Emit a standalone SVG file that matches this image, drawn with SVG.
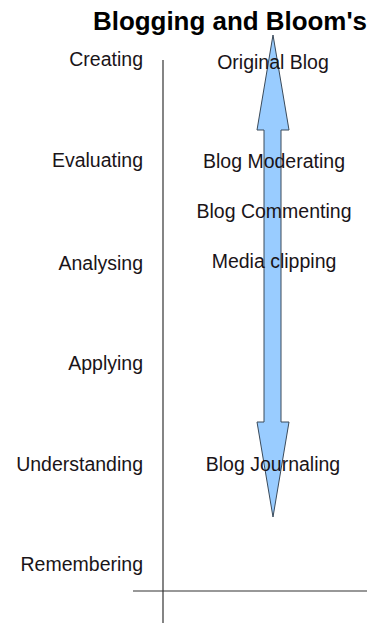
<svg xmlns="http://www.w3.org/2000/svg" width="380" height="623" viewBox="0 0 380 623">
<style>
.t{font-family:"Liberation Sans",Arial,sans-serif;font-size:19.5px;fill:#1a1418}
.l{text-anchor:end}
.c{text-anchor:middle}
.ax{stroke:#333;stroke-width:1.2;fill:none}
</style>
<rect width="380" height="623" fill="#fff"/>
<g id="title"><text x="93" y="30" font-family="Liberation Sans,Arial,sans-serif" font-weight="bold" font-size="25" fill="#000" textLength="274" lengthAdjust="spacingAndGlyphs">Blogging and Bloom's</text></g>
<g id="connectors">
<line class="ax" x1="163" y1="60" x2="163" y2="623"/>
<line class="ax" x1="133" y1="591" x2="367" y2="591"/>
<polygon id="arrow" points="273,35 289,130 281,130 281,422 289,422 273,517 257,422 264,422 264,130 257,130" fill="#99ccff" stroke="#3a4a5a" stroke-width="1"/>
</g>
<g id="levels">
<text class="t l" x="143" y="66">Creating</text>
<text class="t l" x="143" y="167">Evaluating</text>
<text class="t l" x="143" y="270">Analysing</text>
<text class="t l" x="143" y="370">Applying</text>
<text class="t l" x="143" y="471">Understanding</text>
<text class="t l" x="143" y="571">Remembering</text>
</g>
<g id="activities">
<text class="t c" x="273" y="69">Original Blog</text>
<text class="t c" x="274" y="168">Blog Moderating</text>
<text class="t c" x="274" y="218">Blog Commenting</text>
<text class="t c" x="274" y="268">Media clipping</text>
<text class="t c" x="273" y="471">Blog Journaling</text>
</g>
</svg>
